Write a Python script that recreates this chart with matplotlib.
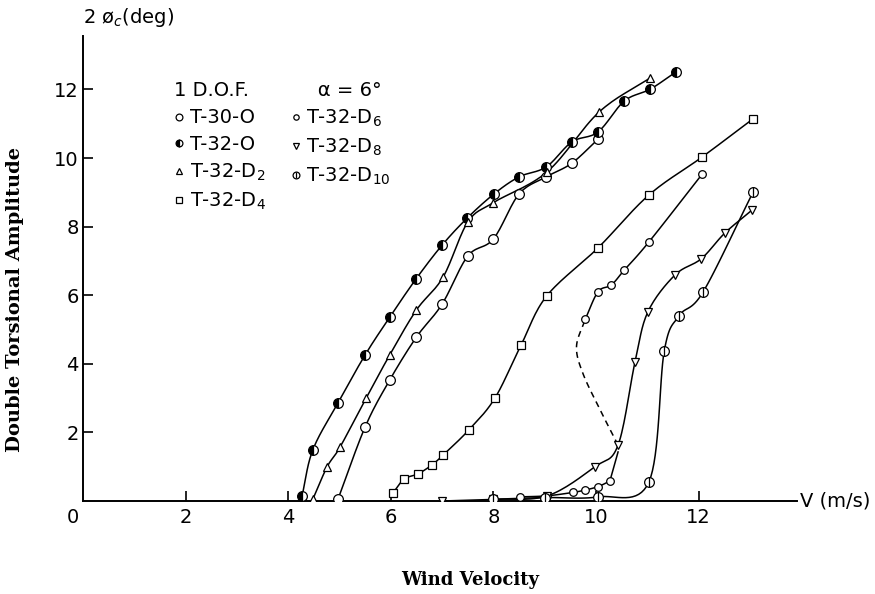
"""Double torsional amplitude vs wind velocity, 1 D.O.F. models."""
import matplotlib
matplotlib.use("Agg")
import matplotlib.pyplot as plt
import numpy as np

# --- data (V in m/s, 2*phi in deg) ---
t30o_v = [4.97, 5.50, 5.98, 6.50, 7.00, 7.50, 8.00, 8.50, 9.03, 9.53, 10.04]
t30o_y = [0.05, 2.16, 3.53, 4.78, 5.74, 7.14, 7.64, 8.95, 9.45, 9.85, 10.55]

t32o_v = [4.27, 4.48, 4.97, 5.50, 5.98, 6.49, 7.00, 7.49, 8.01, 8.50, 9.03,
          9.53, 10.04, 10.55, 11.05, 11.55]
t32o_y = [0.15, 1.49, 2.86, 4.26, 5.36, 6.47, 7.46, 8.25, 8.95, 9.45, 9.74,
          10.47, 10.76, 11.66, 12.00, 12.50]

d2_v = [4.48, 4.76, 5.01, 5.52, 5.98, 6.50, 7.02, 7.50, 8.00, 9.05, 10.06, 11.05]
d2_y = [0.05, 1.00, 1.57, 3.00, 4.26, 5.57, 6.53, 8.13, 8.70, 9.60, 11.34, 12.33]

d4_v = [6.04, 6.26, 6.53, 6.80, 7.02, 7.52, 8.03, 8.54, 9.04, 10.04, 11.03, 12.07, 13.06]
d4_y = [0.23, 0.64, 0.79, 1.05, 1.34, 2.07, 3.00, 4.55, 5.98, 7.38, 8.92, 10.03, 11.14]

d6_low_v = [8.52, 9.04, 9.55, 9.79, 10.04, 10.27]
d6_low_y = [0.12, 0.15, 0.25, 0.32, 0.42, 0.58]
d6_up_v = [9.79, 10.04, 10.30, 10.55, 11.03, 12.07]
d6_up_y = [5.30, 6.10, 6.30, 6.73, 7.55, 9.53]
d6_jump_v = [10.43, 10.10, 9.75, 9.62, 9.79]
d6_jump_y = [1.63, 2.60, 3.70, 4.50, 5.30]

d8_v = [7.00, 8.00, 9.05, 9.98, 10.43, 10.76, 11.01, 11.54, 12.05, 12.51, 13.04]
d8_y = [0.00, 0.05, 0.15, 1.00, 1.63, 4.05, 5.51, 6.59, 7.06, 7.81, 8.48]

d10_v = [8.00, 9.00, 10.04, 11.03, 11.33, 11.62, 12.09, 13.06]
d10_y = [0.05, 0.10, 0.12, 0.55, 4.37, 5.40, 6.10, 9.00]

x_ticks = [2, 4, 6, 8, 10, 12]
y_ticks = [2, 4, 6, 8, 10, 12]


def smooth(xs, ys, n=16):
    """Catmull-Rom curve through the points, to mimic the hand-drawn lines."""
    pts = np.column_stack([xs, ys]).astype(float)
    if len(pts) < 3:
        return pts[:, 0], pts[:, 1]
    p = np.vstack([2 * pts[0] - pts[1], pts, 2 * pts[-1] - pts[-2]])
    t = np.linspace(0, 1, n, endpoint=False)[:, None]
    out = []
    for i in range(1, len(p) - 2):
        p0, p1, p2, p3 = p[i - 1], p[i], p[i + 1], p[i + 2]
        seg = 0.5 * (2 * p1 + (p2 - p0) * t
                     + (2 * p0 - 5 * p1 + 4 * p2 - p3) * t ** 2
                     + (3 * p1 - p0 - 3 * p2 + p3) * t ** 3)
        out.append(seg)
    out.append(pts[-1:])
    res = np.vstack(out)
    return res[:, 0], res[:, 1]


plt.rcParams["font.family"] = ["DejaVu Sans"]
plt.rcParams["mathtext.fontset"] = "dejavusans"

fig = plt.figure(figsize=(8.75, 5.94), dpi=100)
ax = fig.add_axes([83 / 875, 93 / 594, 714 / 875, 465 / 594])
ax.set_xlim(0, 714 / 51.3)
ax.set_ylim(0, 465 / 34.3)

line_kw = dict(color="black", lw=1.1, zorder=2)
mk = dict(ls="none", color="black", mec="black", mew=0.9, zorder=3)

series = [
    (t30o_v, t30o_y),
    (t32o_v, t32o_y),
    (d2_v, d2_y),
    (d4_v, d4_y),
    (d6_low_v, d6_low_y),
    (d6_up_v, d6_up_y),
    (d8_v, d8_y),
    (d10_v, d10_y),
]
for xs, ys in series:
    ax.plot(*smooth(xs, ys), **line_kw)
ax.plot(*smooth(d6_jump_v, d6_jump_y), color="black", lw=1.1, ls=(0, (4, 3)), zorder=2)
# short riser from the D6 lower branch to the jump point
ax.plot([d6_low_v[-1], d6_jump_v[0]], [d6_low_y[-1], d6_jump_y[0] - 0.2], **line_kw)

h_t30o, = ax.plot(t30o_v, t30o_y, marker="o", ms=7, mfc="white", **mk)
h_t32o, = ax.plot(t32o_v, t32o_y, marker="o", ms=7, fillstyle="left",
                  mfc="black", mfcalt="white", **mk)
h_d2, = ax.plot(d2_v, d2_y, marker="^", ms=6, mfc="white", **mk)
h_d4, = ax.plot(d4_v, d4_y, marker="s", ms=6, mfc="white", **mk)
h_d6, = ax.plot(d6_low_v + d6_up_v, d6_low_y + d6_up_y, marker="o", ms=5.5,
                mfc="white", **mk)
h_d8, = ax.plot(d8_v, d8_y, marker="v", ms=6, mfc="white", **mk)
h_d10a, = ax.plot(d10_v, d10_y, marker="o", ms=7, mfc="white", **mk)
h_d10b, = ax.plot(d10_v, d10_y, marker="|", ms=7, **mk)

# axes: only left and bottom, ticks pointing inwards
for side in ("top", "right"):
    ax.spines[side].set_visible(False)
for side in ("left", "bottom"):
    ax.spines[side].set_linewidth(1.4)
ax.set_xticks(x_ticks)
ax.set_yticks(y_ticks)
ax.tick_params(direction="in", length=7, width=1.2, labelsize=14)
ax.tick_params(axis="x", pad=5)
ax.tick_params(axis="y", pad=3)
ax.annotate("0", xy=(0, 0), xytext=(-7, -12), textcoords="offset points",
            ha="center", va="center", fontsize=14)

ax.annotate("2 ø$_c$(deg)", xy=(0, 1), xycoords="axes fraction",
            xytext=(0, 13), textcoords="offset points",
            ha="left", va="center", fontsize=14)
ax.annotate("V (m/s)", xy=(1, 0), xycoords="axes fraction",
            xytext=(2, 0), textcoords="offset points",
            ha="left", va="center", fontsize=14)

fig.text(15 / 875, 1 - 300 / 594, "Double Torsional Amplitude", rotation=90,
         ha="center", va="center", family="DejaVu Serif", weight="bold", fontsize=14)
fig.text(470 / 875, 1 - 580 / 594, "Wind Velocity", ha="center", va="center",
         family="DejaVu Serif", weight="bold", fontsize=13)

# hand-placed legend block, two columns
leg = ax.legend(
    [h_t30o, h_t32o, h_d2, h_d4, h_d6, h_d8, (h_d10a, h_d10b)],
    ["T-30-O", "T-32-O", "T-32-D$_2$", "T-32-D$_4$",
     "T-32-D$_6$", "T-32-D$_8$", "T-32-D$_{10}$"],
    ncol=2, frameon=False, fontsize=14, handlelength=0.5, handletextpad=0.3,
    columnspacing=1.3, labelspacing=0.4, markerscale=0.7,
    title="1 D.O.F.           α = 6°", title_fontsize=14,
    loc="upper left", bbox_to_anchor=(0.114, 0.925), borderpad=0,
)
leg._legend_box.align = "left"

fig.savefig("out.png", dpi=100)
